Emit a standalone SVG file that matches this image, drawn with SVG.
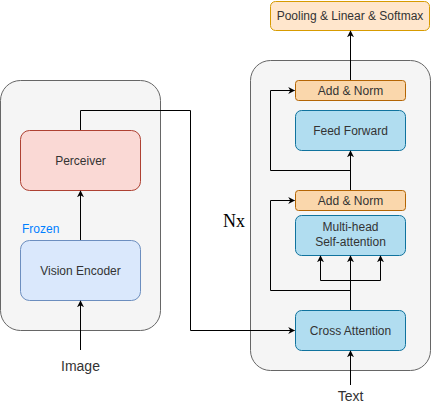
<svg xmlns="http://www.w3.org/2000/svg" width="431" height="411" viewBox="0 0 431 411">
<defs>
<marker id="ah" viewBox="0 0 10 10" refX="9" refY="5" markerWidth="7" markerHeight="7" orient="auto" markerUnits="userSpaceOnUse">
<path d="M0,0 L10,5 L0,10 L3,5 Z" fill="#000"/>
</marker>
<style>
.cont{fill:#f5f5f5;stroke:#666666;stroke-width:1}
.lbl{font-family:"Liberation Sans",Arial,sans-serif;font-size:12px;fill:#333333;text-anchor:middle}
.big{font-family:"Liberation Sans",Arial,sans-serif;font-size:14px;fill:#333333;text-anchor:middle}
.blue{fill:#b1ddf0;stroke:#10739e}
.org{fill:#fad7ac;stroke:#b46504}
.edge{fill:none;stroke:#000;stroke-width:1}
</style>
</defs>
<rect width="431" height="411" fill="#fff"/>
<g id="left-container"><rect class="cont" x="0.5" y="80.5" width="160" height="250" rx="20"/></g>
<g id="right-container"><rect class="cont" x="250.5" y="60.5" width="180" height="310" rx="20"/></g>
<g id="perceiver"><rect x="20.5" y="130.5" width="120" height="60" rx="9" fill="#fad9d5" stroke="#ae4132"/><text class="lbl" x="80.5" y="164.5">Perceiver</text></g>
<g id="vision-encoder"><rect x="20.5" y="240.5" width="120" height="60" rx="9" fill="#dae8fc" stroke="#6c8ebf"/><text class="lbl" x="80.5" y="274.5">Vision Encoder</text></g>
<g id="frozen"><text x="22" y="233" font-family="Liberation Sans, Arial, sans-serif" font-size="12" fill="#007fff">Frozen</text></g>
<g id="image"><text class="big" x="80.5" y="371">Image</text></g>
<g id="pooling"><rect x="270.5" y="1.5" width="159" height="29" rx="5" fill="#ffe6cc" stroke="#d79b00"/><text class="lbl" x="350" y="20">Pooling &amp; Linear &amp; Softmax</text></g>
<g id="add-norm-1"><rect class="org" x="295.5" y="80.5" width="110" height="20" rx="3"/><text class="lbl" x="350.5" y="95">Add &amp; Norm</text></g>
<g id="feed-forward"><rect class="blue" x="295.5" y="110.5" width="110" height="40" rx="6"/><text class="lbl" x="350.5" y="134.5">Feed Forward</text></g>
<g id="add-norm-2"><rect class="org" x="295.5" y="190.5" width="110" height="20" rx="3"/><text class="lbl" x="350.5" y="205">Add &amp; Norm</text></g>
<g id="multi-head"><rect class="blue" x="295.5" y="215.5" width="110" height="40" rx="6"/><text class="lbl" x="350.5" y="231">Multi-head</text><text class="lbl" x="350.5" y="246">Self-attention</text></g>
<g id="cross-attention"><rect class="blue" x="295.5" y="310.5" width="110" height="40" rx="6"/><text class="lbl" x="350.5" y="334.5">Cross Attention</text></g>
<g id="nx"><text x="223" y="227" font-family="Liberation Serif, Times New Roman, serif" font-size="18" fill="#000">Nx</text></g>
<g id="text-label"><text class="big" x="350.5" y="401">Text</text></g>
<g id="connectors">
<path class="edge" d="M80.5,350 V301" marker-end="url(#ah)"/>
<path class="edge" d="M80.5,240 V191" marker-end="url(#ah)"/>
<path class="edge" d="M80.5,130 V110.5 H190.5 V330.5 H294.5" marker-end="url(#ah)"/>
<path class="edge" d="M350.5,385 V351" marker-end="url(#ah)"/>
<path class="edge" d="M350.5,310 V256" marker-end="url(#ah)"/>
<path class="edge" d="M350.5,280.5 H320.5 V256" marker-end="url(#ah)"/>
<path class="edge" d="M350.5,280.5 H380.5 V256" marker-end="url(#ah)"/>
<path class="edge" d="M350.5,290.5 H270.5 V200.5 H294.5" marker-end="url(#ah)"/>
<path class="edge" d="M350.5,190 V151" marker-end="url(#ah)"/>
<path class="edge" d="M350.5,170.5 H270.5 V90.5 H294.5" marker-end="url(#ah)"/>
<path class="edge" d="M350.5,80 V31" marker-end="url(#ah)"/>
</g>
</svg>
